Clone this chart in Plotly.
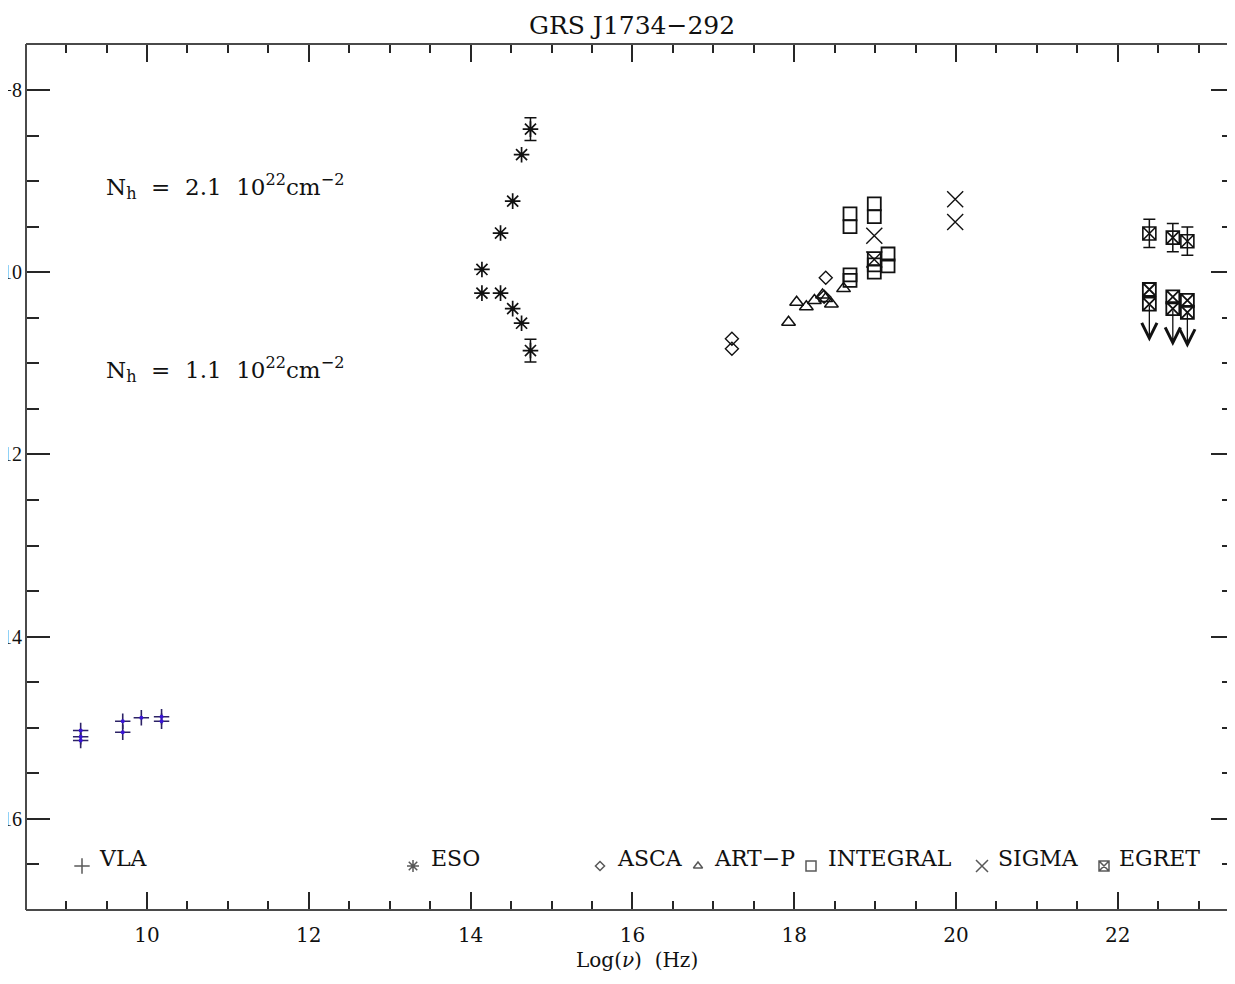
import plotly.graph_objects as go

# ---------------- data (log10 nu [Hz], log10 nuF_nu) ----------------
VLA_LOGNU = [9.18, 9.18, 9.18, 9.70, 9.70, 9.93, 10.18, 10.18]
VLA_LOGF = [-15.03, -15.10, -15.14, -14.93, -15.05, -14.89, -14.88, -14.93]

ESO_LOGNU = [14.74, 14.63, 14.52, 14.37, 14.14, 14.14, 14.37, 14.52, 14.63, 14.74]
ESO_LOGF = [-8.43, -8.71, -9.22, -9.57, -9.97, -10.23, -10.23, -10.40, -10.56, -10.86]
ESO_ERR = [0.125, 0.0, 0.0, 0.0, 0.0, 0.0, 0.0, 0.0, 0.0, 0.125]

ASCA_LOGNU = [17.23, 17.23, 18.39, 18.37]
ASCA_LOGF = [-10.73, -10.84, -10.06, -10.27]

ARTP_LOGNU = [17.93, 18.03, 18.15, 18.25, 18.35, 18.39, 18.46, 18.61]
ARTP_LOGF = [-10.55, -10.33, -10.38, -10.31, -10.25, -10.29, -10.35, -10.18]

INTEGRAL_LOGNU = [18.69, 18.69, 18.99, 18.99, 18.69, 18.69, 18.99, 18.99, 18.99, 19.16, 19.16]
INTEGRAL_LOGF = [-9.36, -9.50, -9.25, -9.39, -10.03, -10.09, -9.85, -9.92, -10.00, -9.80, -9.93]

SIGMA_LOGNU = [19.99, 19.99, 18.99, 18.99]
SIGMA_LOGF = [-9.20, -9.45, -9.60, -9.86]

EGRET_LOGNU = [22.39, 22.68, 22.86]
EGRET_LOGF = [-9.575, -9.62, -9.66]
EGRET_ERR = [0.155, 0.155, 0.155]
EGRET_UL_A = [-10.19, -10.27, -10.31]
EGRET_UL_B = [-10.35, -10.40, -10.44]
EGRET_UL_TIP = [-10.76, -10.81, -10.83]

X_TICKS = [10, 12, 14, 16, 18, 20, 22]
Y_TICKS = [-8, -10, -12, -14, -16]

TITLE = "GRS J1734\u2212292"
NH_LABELS = ["N<sub>h</sub>  =  2.1  10<sup>22</sup>cm<sup>\u22122</sup>",
             "N<sub>h</sub>  =  1.1  10<sup>22</sup>cm<sup>\u22122</sup>"]
LEGEND_NAMES = ["VLA", "ESO", "ASCA", "ART\u2212P", "INTEGRAL", "SIGMA", "EGRET"]

# ---------------- layout constants ----------------
# the page body adds an 8 px margin; figure coordinates = page coords - OFF,
# and the figure is sized so that the page never overflows the 1235x984 window
OFF = 8
W, H = 1235 - OFF, 984 - 2 * OFF
PLOT_L, PLOT_T, PLOT_R, PLOT_B = 26, 44, 1235, 910   # page pixels
ML, MT = PLOT_L - OFF, PLOT_T - OFF
MR = W - (PLOT_R - OFF)
MB = H - (PLOT_B - OFF)
PW, PH = PLOT_R - PLOT_L, PLOT_B - PLOT_T
FONT = "DejaVu Serif, Liberation Serif, serif"
YFONT = "Liberation Serif, DejaVu Serif, serif"
INK = "#111111"
FRAME = "#4a4a4a"
TICKC = "#262626"


def px_x(px):
    return (px - PLOT_L) / PW


def px_y(py):
    return (PLOT_B - py) / PH


fig = go.Figure()

# VLA
fig.add_trace(go.Scatter(x=VLA_LOGNU, y=VLA_LOGF, mode="markers",
                         marker=dict(symbol="cross-thin-open", size=11, color="#2c2266",
                                     line=dict(color="#2c2266", width=1.6)),
                         showlegend=False))
fig.add_trace(go.Scatter(x=VLA_LOGNU, y=VLA_LOGF, mode="markers",
                         marker=dict(symbol="circle", size=4, color="#3a14d6"),
                         showlegend=False))

# ESO
eso_e_x = [x for x, e in zip(ESO_LOGNU, ESO_ERR) if e > 0]
eso_e_y = [y for y, e in zip(ESO_LOGF, ESO_ERR) if e > 0]
eso_e_e = [e for e in ESO_ERR if e > 0]
fig.add_trace(go.Scatter(x=eso_e_x, y=eso_e_y, mode="markers",
                         marker=dict(size=1, color="rgba(0,0,0,0)"),
                         error_y=dict(type="data", array=eso_e_e, visible=True,
                                      color=INK, thickness=1.5, width=6),
                         showlegend=False))
fig.add_trace(go.Scatter(x=ESO_LOGNU, y=ESO_LOGF, mode="markers",
                         marker=dict(symbol="asterisk-open", size=13, color=INK,
                                     line=dict(color=INK, width=1.7)),
                         showlegend=False))
fig.add_trace(go.Scatter(x=ESO_LOGNU, y=ESO_LOGF, mode="markers",
                         marker=dict(symbol="circle", size=4, color=INK),
                         showlegend=False))

# ASCA
fig.add_trace(go.Scatter(x=ASCA_LOGNU, y=ASCA_LOGF, mode="markers",
                         marker=dict(symbol="diamond-open", size=10, color=INK,
                                     line=dict(color=INK, width=1.4)),
                         showlegend=False))
# ART-P
fig.add_trace(go.Scatter(x=ARTP_LOGNU, y=ARTP_LOGF, mode="markers",
                         marker=dict(symbol="triangle-up-open", size=12, color=INK,
                                     line=dict(color=INK, width=1.5)),
                         showlegend=False))
# INTEGRAL
fig.add_trace(go.Scatter(x=INTEGRAL_LOGNU, y=INTEGRAL_LOGF, mode="markers",
                         marker=dict(symbol="square-open", size=13, color=INK,
                                     line=dict(color=INK, width=1.8)),
                         showlegend=False))
# SIGMA
fig.add_trace(go.Scatter(x=SIGMA_LOGNU, y=SIGMA_LOGF, mode="markers",
                         marker=dict(symbol="x-thin-open", size=16, color=INK,
                                     line=dict(color=INK, width=1.4)),
                         showlegend=False))
# EGRET
fig.add_trace(go.Scatter(x=EGRET_LOGNU, y=EGRET_LOGF, mode="markers",
                         marker=dict(symbol="square-x-open", size=13, color=INK,
                                     line=dict(color=INK, width=1.6)),
                         error_y=dict(type="data", array=EGRET_ERR, visible=True,
                                      color=INK, thickness=1.5, width=6),
                         showlegend=False))
fig.add_trace(go.Scatter(x=EGRET_LOGNU + EGRET_LOGNU, y=EGRET_UL_A + EGRET_UL_B,
                         mode="markers",
                         marker=dict(symbol="square-x-open", size=13, color=INK,
                                     line=dict(color=INK, width=1.8)),
                         showlegend=False))

annotations = []
for x, y0, y1 in zip(EGRET_LOGNU, EGRET_UL_B, EGRET_UL_TIP):
    annotations.append(dict(x=x, y=y1, ax=x, ay=y0, xref="x", yref="y",
                            axref="x", ayref="y", showarrow=True, text="",
                            arrowhead=5, arrowsize=2.3, arrowwidth=1.3,
                            arrowcolor=INK))

# custom legend row (drawn on an overlay axis spanning the plot area)
LEG_SYM_PX = [82, 413, 600, 698, 811, 982, 1104]
LEG_TXT_PX = [97, 429, 615, 712, 826, 996, 1117]
LEG_SYMBOLS = ["cross-thin-open", "asterisk-open", "diamond-open",
               "triangle-up-open", "square-open", "x-thin-open", "square-x-open"]
LEG_SIZES = [11, 10, 7, 8, 10, 12, 10]
fig.add_trace(go.Scatter(x=[px_x(p) for p in LEG_SYM_PX],
                         y=[px_y(866)] * len(LEG_SYM_PX),
                         xaxis="x2", yaxis="y2", mode="markers",
                         marker=dict(symbol=LEG_SYMBOLS, size=LEG_SIZES, color=INK,
                                     line=dict(color=INK, width=1.5)),
                         showlegend=False, hoverinfo="skip"))
for name, p in zip(LEGEND_NAMES, LEG_TXT_PX):
    annotations.append(dict(x=px_x(p), y=px_y(858), xref="paper", yref="paper",
                            text=name, showarrow=False, xanchor="left",
                            yanchor="middle", font=dict(family=FONT, size=22, color=INK)))

# texts
annotations.append(dict(x=px_x(632), y=px_y(25), xref="paper", yref="paper", text=TITLE,
                        showarrow=False, xanchor="center", yanchor="middle",
                        font=dict(family=FONT, size=25, color=INK)))
for lab, py in zip(NH_LABELS, [186, 369]):
    annotations.append(dict(x=px_x(104), y=px_y(py), xref="paper", yref="paper",
                            text=lab, showarrow=False, xanchor="left", yanchor="middle",
                            font=dict(family=FONT, size=23, color=INK)))
annotations.append(dict(x=px_x(637), y=px_y(960), xref="paper", yref="paper",
                        text="Log(<i>\u03bd</i>)  (Hz)", showarrow=False,
                        xanchor="center", yanchor="middle",
                        font=dict(family=FONT, size=20, color=INK)))

x_lo = 10 + (PLOT_L - 147) / 80.9
x_hi = 10 + (PLOT_R - 147) / 80.9
y_hi = -8 + (90 - PLOT_T) / 91.1
y_lo = -8 - (PLOT_B - 90) / 91.1

axis_common = dict(showgrid=False, zeroline=False, showline=False,
                   mirror="ticks", ticks="inside",
                   tickwidth=2, tickcolor=TICKC)

# frame: left, top and bottom edges (the right edge lies just outside the window)
frame = [
    dict(type="line", xref="paper", yref="paper", x0=0, x1=0, y0=0, y1=1,
         line=dict(color=FRAME, width=2), layer="above"),
    dict(type="line", xref="paper", yref="paper", x0=0, x1=1.01, y0=1, y1=1,
         line=dict(color=FRAME, width=2), layer="above"),
    dict(type="line", xref="paper", yref="paper", x0=0, x1=1.01, y0=0, y1=0,
         line=dict(color=FRAME, width=2), layer="above"),
]

fig.update_layout(
    width=W, height=H,
    margin=dict(l=ML, r=MR, t=MT, b=MB, autoexpand=False),
    paper_bgcolor="white", plot_bgcolor="white",
    xaxis=dict(range=[x_lo, x_hi], tickmode="array", tickvals=X_TICKS,
               ticktext=[str(v) for v in X_TICKS], ticklen=18,
               ticklabelstandoff=11,
               tickfont=dict(family=FONT, size=20, color=INK),
               minor=dict(tickmode="linear", tick0=0, dtick=0.5, ticklen=9,
                          tickwidth=2, tickcolor=TICKC, ticks="inside"),
               **axis_common),
    yaxis=dict(range=[y_lo, y_hi], tickmode="array", tickvals=Y_TICKS,
               ticktext=["\u2212" + str(-v) for v in Y_TICKS], ticklen=24,
               ticklabelstandoff=3,
               tickfont=dict(family=YFONT, size=20, color=INK),
               minor=dict(tickmode="linear", tick0=0, dtick=0.5, ticklen=13,
                          tickwidth=2, tickcolor=TICKC, ticks="inside"),
               **axis_common),
    xaxis2=dict(range=[0, 1], overlaying="x", visible=False, fixedrange=True),
    yaxis2=dict(range=[0, 1], overlaying="y", visible=False, fixedrange=True),
    annotations=annotations,
    shapes=frame,
    showlegend=False,
)

fig.write_html("out.html")
